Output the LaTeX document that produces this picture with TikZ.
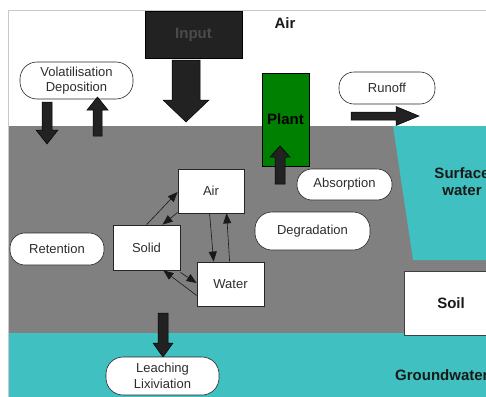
\documentclass[tikz,border=0pt]{standalone}
\usepackage{fontspec}
\setmainfont{Liberation Sans}
\usetikzlibrary{arrows.meta,calc}
\definecolor{soilgray}{RGB}{128,128,128}
\definecolor{watercol}{RGB}{64,192,192}
\definecolor{plantgreen}{RGB}{0,128,0}
\definecolor{darkfill}{RGB}{34,34,34}
\definecolor{txtgray}{RGB}{45,45,45}
\definecolor{inputtxt}{RGB}{75,75,75}
\definecolor{framegray}{RGB}{200,200,200}
\begin{document}
\begin{tikzpicture}[x=1pt,y=-1pt,
  every node/.style={font=\fontsize{13}{15.5}\selectfont, text=txtgray, inner sep=0pt, align=center},
  pill/.style={draw=black!85, fill=white, line width=0.6pt, rounded corners=15pt},
  databox/.style={draw=black!85, fill=white, line width=0.8pt},
  boldlabel/.style={font=\fontsize{15}{17}\selectfont\bfseries, text=black!90},
  blockarrow/.style={fill=darkfill, draw=black, line width=0.5pt},
  flow/.style={draw=black!90, line width=0.6pt, -{Triangle[length=10pt,width=8pt]}}]
\useasboundingbox (0,0) rectangle (486,396);
\begin{scope}
\clip (0,0) rectangle (486,396);
% regions
\fill[white] (0,0) rectangle (486,396);
\fill[white] (8,10) rectangle (490,126);
\fill[soilgray] (8,126) rectangle (490,333);
\fill[watercol] (8,333) rectangle (490,400);
\draw[framegray, line width=0.8pt] (8,400) -- (8,10) -- (490,10);
\fill[watercol] (393,126) -- (490,126) -- (490,260) -- (413,260) -- cycle;
\node[boldlabel, text=black!90] (sw) at (462,182) {Surface\\water};
\node[draw=black!75, fill=white, line width=1.2pt, minimum width=90pt, minimum height=64pt, anchor=north west] (soil) at (404,271) {};
\node[boldlabel] (soiltxt) at (451,303) {Soil};
\node[boldlabel, anchor=west] (gw) at (395,375) {Groundwater};
\node[boldlabel] (airlbl) at (285,23) {Air};

% input
\node[fill=darkfill, draw=black, line width=0.5pt, minimum width=97pt, minimum height=47pt, boldlabel, text=inputtxt] (input) at (193.5,34.5) {Input};
\filldraw[blockarrow] (172,60) -- (200,60) -- (200,100) -- (209,100) -- (186,122) -- (163,100) -- (172,100) -- cycle;

% plant
\node[fill=plantgreen, draw=black, line width=0.6pt, minimum width=47pt, minimum height=93pt, boldlabel, text=black] (plant) at (285.5,119.5) {Plant};
\filldraw[blockarrow] (275,184) -- (285,184) -- (285,157) -- (290,157) -- (280,146) -- (270,157) -- (275,157) -- cycle;

% volatilisation
\node[pill, minimum width=113pt, minimum height=37pt, rounded corners=17pt] (vol) at (76.5,80.5) {Volatilisation\\Deposition};
\filldraw[blockarrow] (42,102) -- (52,102) -- (52,130) -- (58,130) -- (47,144) -- (36,130) -- (42,130) -- cycle;
\filldraw[blockarrow] (93,136) -- (102,136) -- (102,110) -- (108,110) -- (97.5,97) -- (87,110) -- (93,110) -- cycle;

% runoff
\node[pill, minimum width=96pt, minimum height=32pt] (runoff) at (387,88) {Runoff};
\filldraw[blockarrow] (351,112) -- (396,112) -- (396,106.5) -- (419,116) -- (396,125.5) -- (396,120) -- (351,120) -- cycle;

% other pills
\node[pill, minimum width=95pt, minimum height=31pt] (absorption) at (344.5,184.5) {Absorption};
\node[pill, minimum width=115pt, minimum height=38pt, rounded corners=17pt] (degradation) at (312.5,231) {Degradation};
\node[pill, minimum width=94pt, minimum height=32pt] (retention) at (57,249) {Retention};

% leaching
\filldraw[blockarrow] (158,313) -- (168,313) -- (168,343) -- (173,343) -- (163,357) -- (153,343) -- (158,343) -- cycle;
\node[pill, minimum width=113pt, minimum height=38pt, rounded corners=17pt] (leaching) at (162.5,376) {Leaching\\Lixiviation};

% compartments
\node[databox, minimum width=66pt, minimum height=44pt] (air) at (211,191) {Air};
\node[databox, minimum width=67pt, minimum height=45pt] (solid) at (146.5,247.5) {Solid};
\node[databox, minimum width=67pt, minimum height=44pt] (water) at (230.5,284) {Water};

\draw[flow] ([xshift=34pt]solid.north west) -- ([yshift=-1pt]air.west);
\draw[flow] ([yshift=1pt]air.south west) -- ([xshift=50pt]solid.north west);
\draw[flow] ([xshift=32pt]air.south west) -- ([xshift=17pt]water.north west);
\draw[flow] ([xshift=33pt]water.north west) -- ([xshift=49pt]air.south west);
\draw[flow] ([yshift=-2pt]solid.south east) -- ([yshift=1pt]water.west);
\draw[flow] ([yshift=11pt]water.south west) -- ([xshift=-17pt]solid.south east);
\end{scope}
\end{tikzpicture}
\end{document}
